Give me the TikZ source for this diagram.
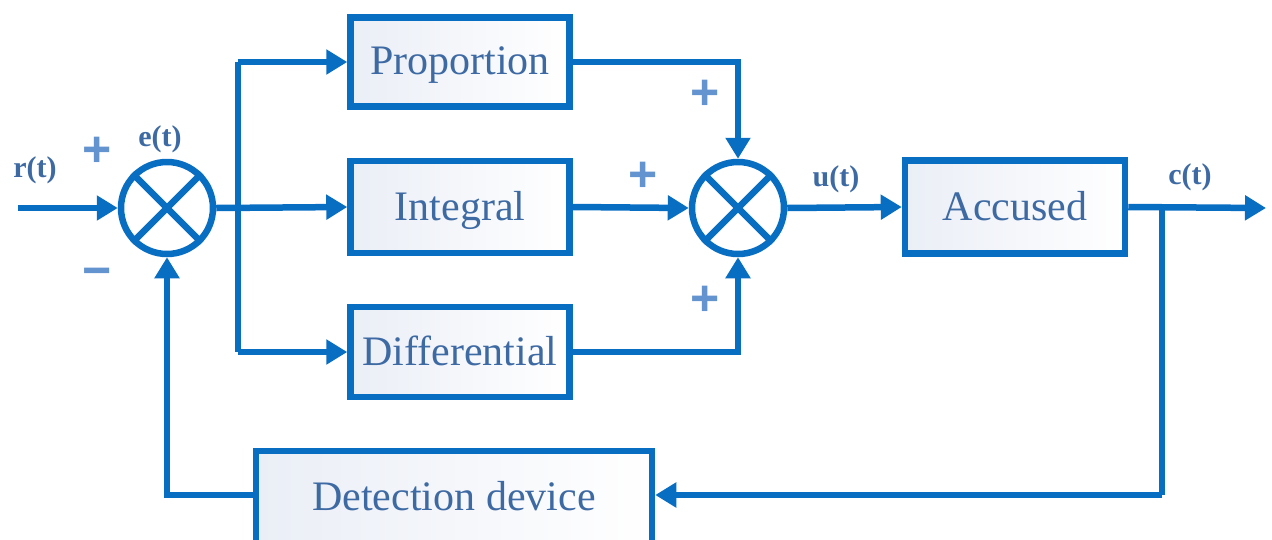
\documentclass[tikz,border=0pt]{standalone}
\usepackage{fontspec}
\setmainfont{Liberation Serif}
\newfontfamily\signfont{Liberation Sans}
\usetikzlibrary{arrows.meta}
\definecolor{wire}{RGB}{8,110,194}
\definecolor{boxtext}{RGB}{62,106,164}
\definecolor{signcol}{RGB}{100,148,208}
\definecolor{boxshade}{RGB}{234,238,246}
\tikzset{
  x=1pt, y=-1pt,
  wireline/.style={draw=wire, line width=6.5pt},
  arr/.style={wireline, -{Triangle[length=21pt,width=24pt]}},
  block/.style={draw=wire, line width=6.5pt, rectangle, left color=boxshade, right color=white,
    text=boxtext, font=\fontsize{42}{48}\selectfont, inner sep=0pt, text depth=2pt},
  summer/.style={draw=wire, line width=6.5pt, circle, minimum size=92pt, inner sep=0pt, fill=white},
  sig/.style={text=boxtext, font=\fontsize{30}{34}\selectfont\bfseries, inner sep=0pt},
  sign/.style={text=signcol, font=\fontsize{50}{52}\selectfont\signfont\bfseries, inner sep=0pt}
}
\begin{document}
\begin{tikzpicture}
\path[use as bounding box, clip] (0,0) rectangle (1272,539);
\fill[white] (0,0) rectangle (1272,539);

% summing junctions
\node[summer] (s1) at (167,208) {};
\node[summer] (s2) at (738,208) {};
\foreach \s in {s1,s2}{
  \draw[wireline] (\s.north west) -- (\s.south east);
  \draw[wireline] (\s.north east) -- (\s.south west);
}

% controller branches
\node[block, minimum width=219pt, minimum height=89pt] (pr) at (460,62) {Proportion};
\node[block, minimum width=219pt, minimum height=92pt] (ig) at (460,207) {Integral};
\node[block, minimum width=219pt, minimum height=90pt] (df) at (460,352) {Differential};

% plant and sensor
\node[block, minimum width=220pt, minimum height=93pt] (pl) at (1015,207) {Accused};
\node[block, minimum width=396pt, minimum height=92pt] (fb) at (454,497) {Detection device};

% helper points
\coordinate (in) at (18,208);
\coordinate (br) at (238,208);
\coordinate (cj) at (1162,208);
\coordinate (out) at (1266,208);
\coordinate (fbr) at (1162,495);

% reference input and error split
\draw[arr] (in) -- (s1.west);
\draw[wireline] (br |- pr.west) -- (br |- df.west);
\draw[arr] (s1.east) -- (ig.west);
\draw[arr] (br |- pr.west) -- (pr.west);
\draw[arr] (br |- df.west) -- (df.west);

% branch outputs into the second junction
\draw[arr] (pr.east) -| (s2.north);
\draw[arr] (ig.east) -- (s2.west);
\draw[arr] (df.east) -| (s2.south);

% control signal and plant output
\draw[arr] (s2.east) -- (pl.west);
\draw[arr] (pl.east) -- (out);

% feedback loop
\draw[wireline] (cj) -- (fbr);
\draw[arr] (fbr) -- (fb.east |- fbr);
\draw[arr] (fb.west |- fbr) -| (s1.south);

% signal names
\node[sig] (lr) at (35,170) {r(t)};
\node[sig] (le) at (160,139) {e(t)};
\node[sig] (lu) at (836,179) {u(t)};
\node[sig] (lc) at (1190,177) {c(t)};

% signs
\node[sign] (p1) at (97,152) {+};
\node[sign] (m1) at (97,278) {−};
\node[sign] (p2) at (705,95) {+};
\node[sign] (p3) at (643,177) {+};
\node[sign] (p4) at (705,301) {+};
\end{tikzpicture}
\end{document}
